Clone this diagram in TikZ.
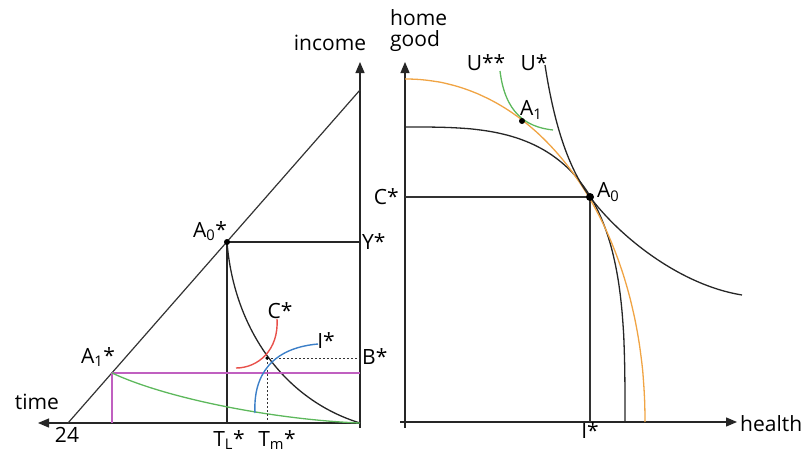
\documentclass[tikz,border=0pt]{standalone}
\usepackage{fontspec}
\setmainfont{Open Sans}
\usetikzlibrary{arrows.meta}
\definecolor{cred}{HTML}{E8504A}
\definecolor{cblue}{HTML}{3C7FC8}
\definecolor{cgreen}{HTML}{5DB85C}
\definecolor{cmag}{HTML}{C060C0}
\definecolor{corange}{HTML}{F0A444}
\begin{document}
\begin{tikzpicture}[x=1pt,y=-1pt,
  ax/.style={line width=1.3pt, black!85, -{Triangle[length=11pt,width=9pt]}},
  ln/.style={line width=1.3pt, black!85},
  thin/.style={line width=1.2pt, black!80},
  dotln/.style={line width=1pt, black!80, dash pattern=on 2pt off 2pt},
  lbl/.style={inner sep=0pt, font=\fontsize{21}{22}\selectfont},
  dot/.style={circle, fill=black, inner sep=0pt, minimum size=#1}]
\useasboundingbox (0,0) rectangle (806,455);
% ---------- left panel coordinates
\coordinate (O1) at (360,423);
\coordinate (IncTop) at (360,62);
\coordinate (IncBot) at (360,428);
\coordinate (TimeEnd) at (38,423);
\coordinate (DiagB) at (68,423);
\coordinate (DiagT) at (360,90);
\coordinate (A0s) at (227,242);
\coordinate (Ys) at (360,242);
\coordinate (TL) at (227,423);
\coordinate (X) at (267,358);
\coordinate (Bs) at (360,358);
\coordinate (Tm) at (267,423);
\coordinate (A1s) at (112,373);
\coordinate (M1) at (360,373);
\coordinate (M2) at (112,423);
% axes
\draw[ax] (IncBot) -- (IncTop);
\draw[ax] (O1) -- (TimeEnd);
\draw[thin] (DiagB) -- (DiagT);
% box
\draw[ln] (A0s) -- (Ys);
\draw[ln] (A0s) -- (TL);
% curve from A0*
\draw[ln] (A0s) .. controls (234,330) and (285,400) .. (O1);
% magenta
\draw[cmag, line width=1.2pt] (A1s) -- (M1);
\draw[cmag, line width=1.2pt] (A1s) -- (M2);
% green
\draw[cgreen, line width=1.3pt] (A1s) .. controls (170,400) and (280,420) .. (O1);
% dotted
\draw[dotln] (X) -- (Bs);
\draw[dotln] (X) -- (Tm);
% red and blue
\coordinate (Rs) at (236,368);
\coordinate (Re) at (277,319);
\draw[cred, line width=1.4pt] (Rs) .. controls (258,368) and (279,350) .. (Re);
\coordinate (Bls) at (255,413);
\coordinate (Ble) at (318,344);
\draw[cblue, line width=1.4pt] (Bls) .. controls (253,375) and (272,348) .. (Ble);
\node[dot=6pt] (A0sdot) at (A0s) {};
\node[dot=3.5pt] (Xdot) at (X) {};
% labels
\node[lbl] (income) at (330,43) {income};
\node[lbl] (time) at (37,402) {time};
\node[lbl] (n24) at (67,435) {24};
\node[lbl] (lA0) at (210,231) {A\textsubscript{0}*};
\node[lbl] (lA1) at (98,357) {A\textsubscript{1}*};
\node[lbl, anchor=west] (lY) at (362,242) {Y*};
\node[lbl, anchor=west] (lB) at (362,357) {B*};
\node[lbl] (lC) at (280,311) {C*};
\node[lbl] (lI) at (326,341) {I*};
\node[lbl, anchor=north] (lTL) at (229,430) {T\textsubscript{L}*};
\node[lbl, anchor=north] (lTm) at (277,430) {T\textsubscript{m}*};
% ---------- right panel
\coordinate (O2) at (405,422);
\coordinate (HTop) at (405,62);
\coordinate (HBot) at (405,428);
\coordinate (HlStart) at (400,422);
\coordinate (HlEnd) at (737,422);
\coordinate (A0) at (590,197);
\coordinate (Cs) at (405,197);
\coordinate (Is) at (590,422);
\coordinate (A1) at (522,121);
\draw[ax] (HBot) -- (HTop);
\draw[ax] (HlStart) -- (HlEnd);
\draw[thin] (Cs) -- (A0) -- (Is);
% inner PPF (superellipse)
\draw[ln] plot[domain=0:90, samples=80, variable=\t, smooth]
  ({405+220*pow(max(cos(\t),0.00001),0.625)}, {422-295*pow(max(sin(\t),0.00001),0.625)});
% outer PPF (orange)
\draw[corange, line width=1.3pt] plot[domain=0:90, samples=80, variable=\t, smooth]
  ({405+240*pow(max(cos(\t),0.00001),0.976)}, {422-343*pow(max(sin(\t),0.00001),0.976)});
% U*
\coordinate (Us) at (545,65);
\coordinate (Ue) at (742,295);
\draw[ln] (Us) .. controls (555,130) and (570,170) .. (A0) .. controls (620,237) and (680,285) .. (Ue);
% U**
\coordinate (Uss) at (500,71);
\coordinate (Use) at (553,130);
\draw[cgreen, line width=1.3pt] (Uss) .. controls (505,112) and (525,127) .. (Use);
\node[dot=8pt] (A0dot) at (A0) {};
\node[dot=6pt] (A1dot) at (A1) {};
% labels
\node[lbl, anchor=west, align=left, font=\fontsize{21}{21}\selectfont] (hg) at (390,31) {home\\good};
\node[lbl] (lUss) at (486,63) {U**};
\node[lbl] (lUs) at (534,63) {U*};
\node[lbl, anchor=west] (lA1r) at (520,110) {A\textsubscript{1}};
\node[lbl, anchor=west] (lA0r) at (597,192) {A\textsubscript{0}};
\node[lbl, anchor=east] (lCr) at (399,197) {C*};
\node[lbl] (lIr) at (590,431) {I*};
\node[lbl, anchor=west] (health) at (740,424) {health};
\end{tikzpicture}
\end{document}
